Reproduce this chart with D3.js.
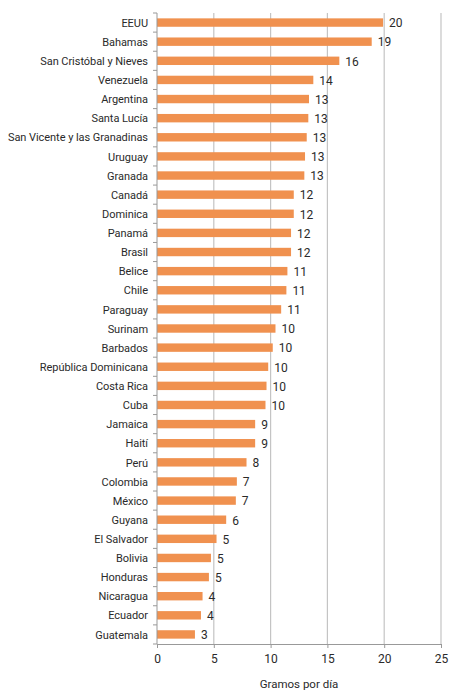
<!DOCTYPE html>
<html>
<head>
<meta charset="utf-8">
<script src="https://cdn.jsdelivr.net/npm/d3@7"></script>
<style>
  body { margin: 0; background: #fff; }
  .chart text { font-family: Roboto, "Liberation Sans", sans-serif; fill: #2a2a2a; }
</style>
</head>
<body>
<div class="chart"></div>
<script>
// data
const countries = ['EEUU', 'Bahamas', 'San Cristóbal y Nieves', 'Venezuela', 'Argentina', 'Santa Lucía',
    'San Vicente y las Granadinas', 'Uruguay', 'Granada', 'Canadá', 'Dominica', 'Panamá', 'Brasil',
    'Belice', 'Chile', 'Paraguay', 'Surinam', 'Barbados', 'República Dominicana', 'Costa Rica', 'Cuba',
    'Jamaica', 'Haití', 'Perú', 'Colombia', 'México', 'Guyana', 'El Salvador', 'Bolivia', 'Honduras',
    'Nicaragua', 'Ecuador', 'Guatemala'];
const grams = [19.9, 18.9, 16.05, 13.76, 13.38, 13.32, 13.18, 13.03, 12.97, 12.04, 12.04, 11.8, 11.8,
    11.48, 11.39, 10.93, 10.43, 10.19, 9.79, 9.64, 9.55, 8.64, 8.64, 7.88, 7.03, 6.94, 6.09, 5.24,
    4.75, 4.57, 4.01, 3.87, 3.34];
const xTicks = [0, 5, 10, 15, 20, 25];
const xTitle = 'Gramos por día';

const width = 459, height = 700;
const margin = { top: 13, right: 18, bottom: 56, left: 157 };
const innerW = width - margin.left - margin.right;
const innerH = height - margin.top - margin.bottom;

const svg = d3.select('.chart').append('svg')
    .attr('width', width)
    .attr('height', height);

const g = svg.append('g')
    .attr('transform', 'translate(' + margin.left + ',' + margin.top + ')');

const xScale = d3.scaleLinear().domain([0, 25]).range([0, innerW]);
const yScale = d3.scaleBand().domain(countries).range([0, innerH]).paddingInner(0.56).paddingOuter(0.28);

// #region grid
g.selectAll('.grid')
    .data(xTicks.slice(1))
    .enter()
    .append('line')
    .attr('class', 'grid')
    .attr('x1', d => xScale(d)).attr('x2', d => xScale(d))
    .attr('y1', 0).attr('y2', innerH)
    .attr('stroke', '#c4c4c4')
    .attr('stroke-width', 1.2);
// #endregion

// #region bars
g.selectAll('.bar')
    .data(countries)
    .enter()
    .append('rect')
    .attr('class', 'bar')
    .attr('x', xScale(0))
    .attr('y', d => yScale(d))
    .attr('width', (d, i) => xScale(grams[i]) - xScale(0))
    .attr('height', yScale.bandwidth())
    .attr('fill', '#F0914F');

g.selectAll('.val')
    .data(countries)
    .enter()
    .append('text')
    .attr('class', 'val')
    .attr('x', (d, i) => xScale(grams[i]) + 6)
    .attr('y', d => yScale(d) + yScale.bandwidth() / 2)
    .attr('dy', '0.4em')
    .attr('font-size', 12)
    .text((d, i) => Math.round(grams[i]));
// #endregion

// #region axes
const step = yScale.step();
const yAxis = g.append('g').attr('class', 'yAxis');
yAxis.append('line')
    .attr('x1', 0).attr('x2', 0).attr('y1', 0).attr('y2', innerH)
    .attr('stroke', '#999');
yAxis.selectAll('.ytick')
    .data(d3.range(countries.length + 1))
    .enter()
    .append('line')
    .attr('x1', -4).attr('x2', 0)
    .attr('y1', i => i * step).attr('y2', i => i * step)
    .attr('stroke', '#999');
yAxis.selectAll('.ylab')
    .data(countries)
    .enter()
    .append('text')
    .attr('x', -9)
    .attr('y', d => yScale(d) + yScale.bandwidth() / 2)
    .attr('dy', '0.38em')
    .attr('text-anchor', 'end')
    .attr('font-size', 11)
    .attr('letter-spacing', -0.05)
    .text(d => d);

const xAxis = g.append('g')
    .attr('transform', 'translate(0,' + innerH + ')')
    .call(d3.axisBottom(xScale).tickValues(xTicks).tickSize(4).tickPadding(6));
xAxis.select('.domain').attr('stroke', '#999');
xAxis.selectAll('.tick line').attr('stroke', '#999');
xAxis.selectAll('.tick text').attr('font-size', 12).attr('fill', '#2a2a2a')
    .style('font-family', 'Roboto, sans-serif');

svg.append('text')
    .attr('x', margin.left + innerW / 2)
    .attr('y', 688)
    .attr('text-anchor', 'middle')
    .attr('font-size', 11.5)
    .text(xTitle);
// #endregion
</script>
</body>
</html>
